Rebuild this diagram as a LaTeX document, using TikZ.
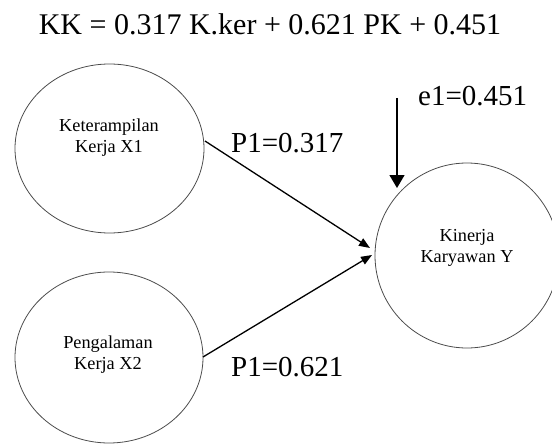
\documentclass[tikz,border=0pt]{standalone}
\usepackage{fontspec}
\setmainfont{Liberation Serif}
\usetikzlibrary{shapes.geometric,arrows.meta}
\tikzset{
  var/.style={ellipse, draw=black!70, line width=0.8pt, inner sep=0pt},
  vtext/.style={align=center, font=\fontsize{18.3}{21}\selectfont, inner sep=0pt},
  big/.style={font=\fontsize{29}{34}\selectfont, inner sep=0pt},
  path/.style={line width=1.3pt, -{Triangle[length=11pt,width=8.5pt]}},
  err/.style={line width=1.3pt, -{Triangle[length=13pt,width=15pt]}}
}
\begin{document}
\begin{tikzpicture}[x=1pt,y=-1pt]
\useasboundingbox (0,0) rectangle (552,444);
% title
\node[big, font=\fontsize{30}{35}\selectfont, anchor=base] (title) at (270,35) {KK = 0.317 K.ker + 0.621 PK + 0.451};
% variables
\node[var, minimum width=189pt, minimum height=169pt] (x1) at (109.5,148.5) {};
\node[var, minimum width=188pt, minimum height=171pt] (x2) at (109,357.5) {};
\node[var, minimum width=184pt, minimum height=185pt] (y) at (467,255.5) {};
\node[vtext] (x1t) at (109,138) {Keterampilan\\Kerja X1};
\node[vtext] (x2t) at (108,355) {Pengalaman\\Kerja X2};
\node[vtext] (yt) at (467,247.5) {Kinerja\\Karyawan Y};
% connector ends
\coordinate (s1) at (205,141);
\coordinate (t1) at (370,248);
\coordinate (s2) at (203,357);
\coordinate (t2) at (372,255);
\coordinate (es) at (397,98);
\coordinate (et) at (397,188);
\draw[path] (s1) -- (t1);
\draw[path] (s2) -- (t2);
\draw[err] (es) -- (et);
% labels
\node[big, anchor=base west] (p1) at (231,152) {P1=0.317};
\node[big, anchor=base west] (p2) at (231,376) {P1=0.621};
\node[big, anchor=base west] (e1) at (418,106) {e1=0.451};
\end{tikzpicture}
\end{document}
